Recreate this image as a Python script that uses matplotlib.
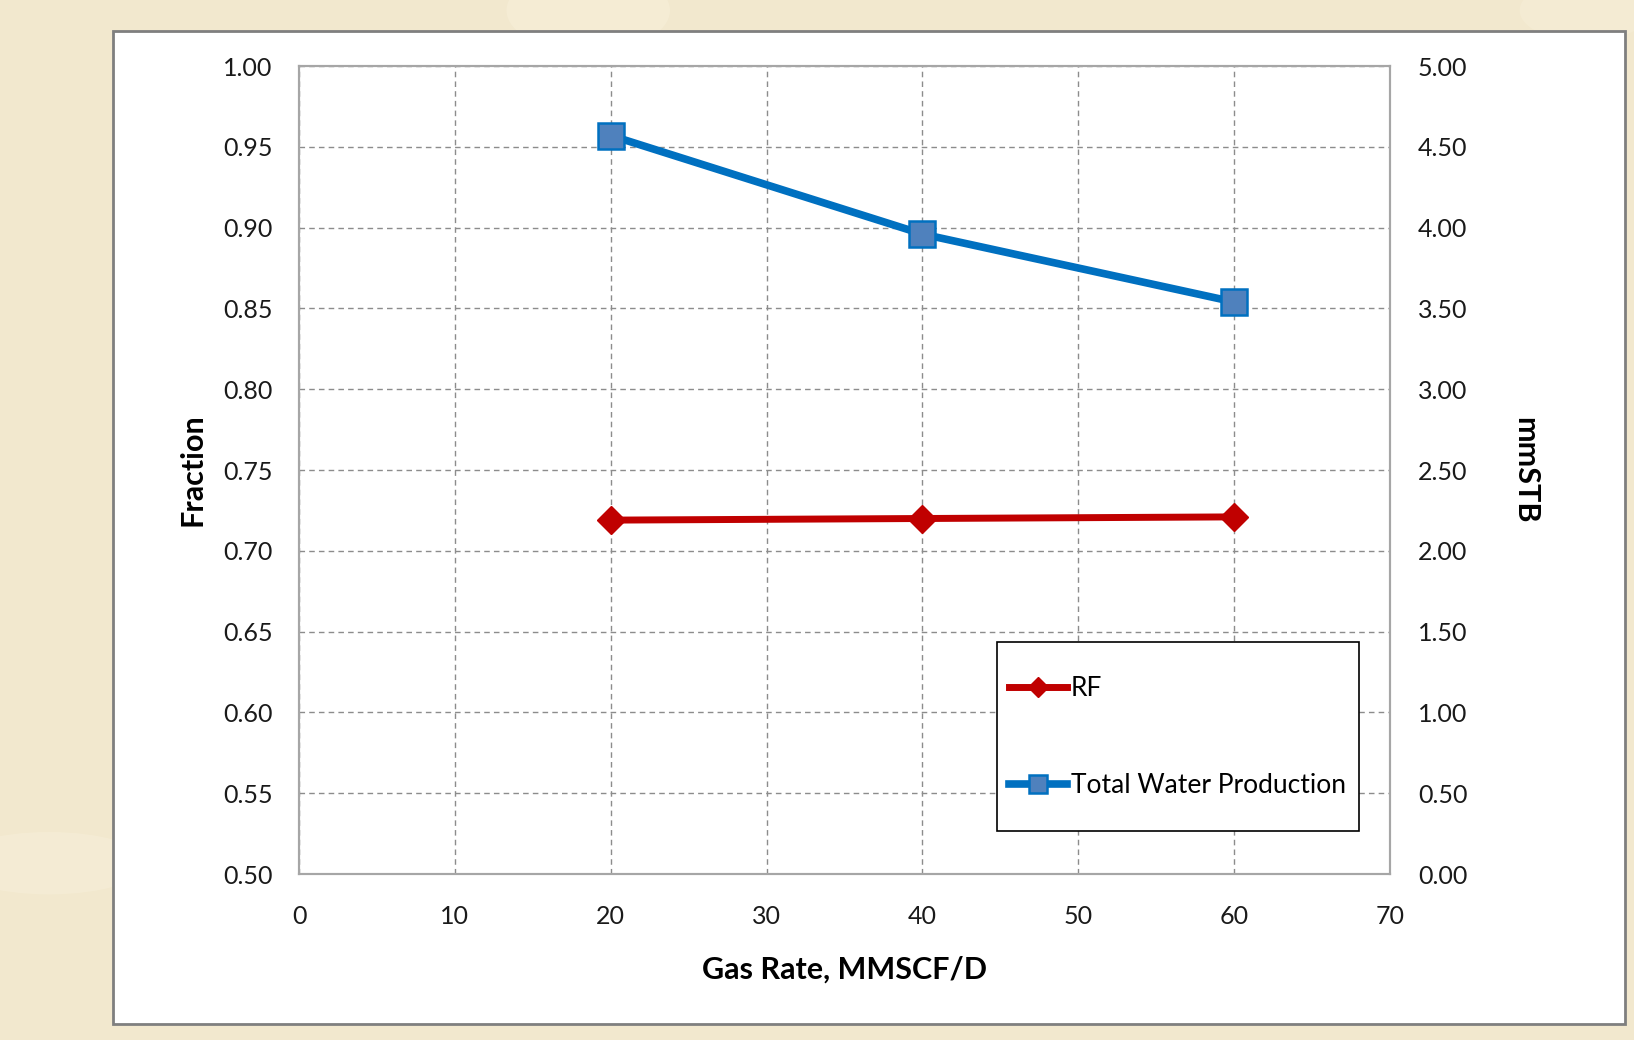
import matplotlib
matplotlib.use("Agg")
import matplotlib.pyplot as plt
from matplotlib.patches import Rectangle, Ellipse

# data
gas_rate = [20, 40, 60]
rf = [0.719, 0.720, 0.721]
water = [4.57, 3.96, 3.54]

x_ticks = [0, 10, 20, 30, 40, 50, 60, 70]
left_ticks = [0.50, 0.55, 0.60, 0.65, 0.70, 0.75, 0.80, 0.85, 0.90, 0.95, 1.00]
right_ticks = [0.0, 0.5, 1.0, 1.5, 2.0, 2.5, 3.0, 3.5, 4.0, 4.5, 5.0]

plt.rcParams["font.family"] = ["Lato", "DejaVu Sans"]

BG = "#F2E8CE"
RED = "#C00000"
BLUE = "#0070C0"
BLUE_FACE = "#4F81BD"
GRID = "#8C8C8C"
SPINE = "#A6A6A6"
W, H = 1634, 1040

fig = plt.figure(figsize=(W / 100, H / 100), dpi=100)
fig.patch.set_facecolor(BG)

# soft light streaks in the background
for cx, cy, w, h, a in [(0.36, 0.99, 0.10, 0.08, 0.35), (0.03, 0.17, 0.12, 0.06, 0.3),
                        (0.97, 0.99, 0.08, 0.06, 0.25)]:
    fig.patches.append(Ellipse((cx, cy), w, h, transform=fig.transFigure,
                               facecolor="#FBF5E2", edgecolor="none", alpha=a, zorder=0))

# white chart area with grey border
fig.patches.append(Rectangle((113 / W, 1 - 1024 / H), (1625 - 113) / W, (1024 - 31) / H,
                             transform=fig.transFigure, facecolor="white",
                             edgecolor="#7F7F7F", linewidth=2, zorder=1))

ax = fig.add_axes([0.1830, 0.1596, 0.6677, 0.7769])
ax.set_zorder(2)
ax2 = ax.twinx()

ax.set_xlim(0, 70)
ax.set_ylim(0.5, 1.0)
ax2.set_ylim(0, 5)
ax.set_xticks(x_ticks)
ax.set_yticks(left_ticks)
ax2.set_yticks(right_ticks)
ax.set_xticklabels([str(v) for v in x_ticks])
ax.set_yticklabels([f"{v:.2f}" for v in left_ticks])
ax2.set_yticklabels([f"{v:.2f}" for v in right_ticks])

ax.grid(True, color=GRID, linestyle=(0, (4, 3)), linewidth=1)
ax.set_axisbelow(True)

for a in (ax, ax2):
    for s in a.spines.values():
        s.set_color(SPINE)
        s.set_linewidth(1.5)
ax.tick_params(axis="both", length=0, labelsize=18, colors="#1A1A1A")
ax.tick_params(axis="y", pad=19)
ax.tick_params(axis="x", pad=22)
ax2.tick_params(axis="y", length=0, labelsize=18, colors="#1A1A1A", pad=20)

l1, = ax.plot(gas_rate, rf, color=RED, linewidth=5, marker="D", markersize=14,
              markerfacecolor=RED, markeredgecolor=RED, label="RF", zorder=3)
l2, = ax2.plot(gas_rate, water, color=BLUE, linewidth=5.5, marker="s", markersize=19,
               markerfacecolor=BLUE_FACE, markeredgecolor=BLUE, markeredgewidth=1.8,
               label="Total Water Production", zorder=3)

ax.set_xlabel("Gas Rate, MMSCF/D", fontsize=22, fontweight="bold", labelpad=20)
ax.set_ylabel("Fraction", fontsize=22, fontweight="bold", labelpad=12)
ax2.set_ylabel("mmSTB", fontsize=22, fontweight="bold", rotation=-90, labelpad=52)

# legend box drawn separately so the entries can sit close to its left edge
ax2.add_patch(Rectangle((997 / W, 1 - 831 / H), (1359 - 997) / W, (831 - 642) / H,
                        transform=fig.transFigure, facecolor="white", edgecolor="black",
                        linewidth=1.2, zorder=4, clip_on=False))
leg = ax2.legend(handles=[l1, l2], loc="center left",
                 bbox_to_anchor=(1009 / W, 1 - 737 / H), bbox_transform=fig.transFigure,
                 fontsize=19, frameon=False, handlelength=2.2, handletextpad=0.15,
                 labelspacing=2.72, borderpad=0, borderaxespad=0, markerscale=0.7)
leg.set_zorder(5)

fig.savefig("out.png", dpi=100, facecolor=BG)
